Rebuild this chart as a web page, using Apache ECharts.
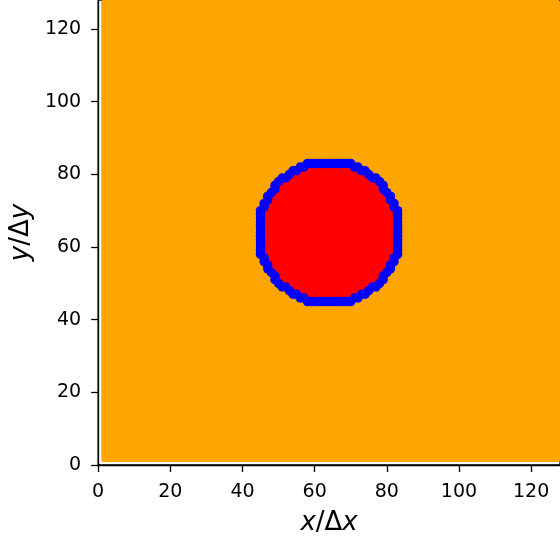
<!DOCTYPE html>
<html>
<head>
<meta charset="utf-8">
<script src="https://cdn.jsdelivr.net/npm/echarts@6/dist/echarts.min.js"></script>
<style>html,body{margin:0;padding:0;background:#fff;}#c{width:560px;height:542px;}</style>
</head>
<body>
<div id="c"></div>
<script>
// Tick labels
const xTicks = [0, 20, 40, 60, 80, 100, 120];
const yTicks = [0, 20, 40, 60, 80, 100, 120];
// Fluid domain extent [xmin, ymin, xmax, ymax]
const domain = [0.85, 0.85, 128, 128];
// Boundary nodes of the solid (ordered around the obstacle)
const blueX = [
  83,83,83,83,83,83,83,83,83,83,83,83,83,
  82,82,81,81,80,79,79,78,77,76,75,74,73,72,71,
  70,69,68,67,66,65,64,63,62,61,60,59,58,
  57,56,55,54,53,52,51,50,49,49,48,47,47,46,46,
  45,45,45,45,45,45,45,45,45,45,45,45,45,
  46,46,47,47,48,49,49,50,51,52,53,54,55,56,57,
  58,59,60,61,62,63,64,65,66,67,68,69,70,
  71,72,73,74,75,76,77,78,79,79,80,81,81,82,82
];
const blueY = [
  58,59,60,61,62,63,64,65,66,67,68,69,70,
  71,72,73,74,75,76,77,78,79,79,80,81,81,82,82,
  83,83,83,83,83,83,83,83,83,83,83,83,83,
  82,82,81,81,80,79,79,78,77,76,75,74,73,72,71,
  70,69,68,67,66,65,64,63,62,61,60,59,58,
  57,56,55,54,53,52,51,50,49,49,48,47,47,46,46,
  45,45,45,45,45,45,45,45,45,45,45,45,45,
  46,46,47,47,48,49,49,50,51,52,53,54,55,56,57
];

const chart = echarts.init(document.getElementById('c'), null, {renderer: 'canvas'});
const FONT = 'DejaVu Sans';
const nameStyle = {
  fontSize: 26, fontFamily: FONT, color: '#000',
  rich: { i: { fontSize: 26, fontFamily: FONT, fontStyle: 'italic', color: '#000' } }
};
function axisCommon(ticks) {
  return {
    type: 'value', min: 0, max: 128, interval: 20,
    axisLine: { show: true, onZero: false, lineStyle: { color: '#000', width: 1.3 } },
    axisTick: { show: true, length: 7, customValues: ticks, lineStyle: { color: '#000', width: 1.3 } },
    axisLabel: { customValues: ticks, color: '#000', fontSize: 19, fontFamily: FONT },
    splitLine: { show: false },
    nameLocation: 'middle',
    nameTextStyle: nameStyle
  };
}
const xAxis = Object.assign(axisCommon(xTicks), { name: '{i|x}/Δ{i|x}', nameGap: 45 });
xAxis.axisLabel.margin = 18;
const yAxis = Object.assign(axisCommon(yTicks), { name: '{i|y}/Δ{i|y}', nameGap: 63 });
yAxis.axisLabel.margin = 17;

chart.setOption({
  animation: false,
  backgroundColor: '#fff',
  grid: { left: 98, top: 0, width: 465, height: 465, show: true, borderColor: '#000', borderWidth: 1.3, backgroundColor: 'transparent' },
  xAxis: xAxis,
  yAxis: yAxis,
  series: [
    {
      type: 'custom', clip: true, z: 1,
      data: [domain],
      renderItem: function (params, api) {
        const p0 = api.coord([api.value(0), api.value(1)]);
        const p1 = api.coord([api.value(2), api.value(3)]);
        return { type: 'rect', shape: { x: p0[0], y: p1[1], width: p1[0] - p0[0], height: p0[1] - p1[1], r: 2 },
                 style: { fill: '#FFA500' } };
      }
    },
    {
      type: 'custom', clip: true, z: 2,
      data: [[64, 64]],
      renderItem: function (params, api) {
        const pts = blueX.map((x, i) => api.coord([x, blueY[i]]));
        return { type: 'polygon', shape: { points: pts }, style: { fill: '#FF0000' } };
      }
    },
    {
      type: 'scatter', z: 3,
      symbol: 'circle', symbolSize: 9.5,
      itemStyle: { color: '#0000FF', opacity: 1 },
      data: blueX.map((x, i) => [x, blueY[i]])
    }
  ]
});
</script>
</body>
</html>
